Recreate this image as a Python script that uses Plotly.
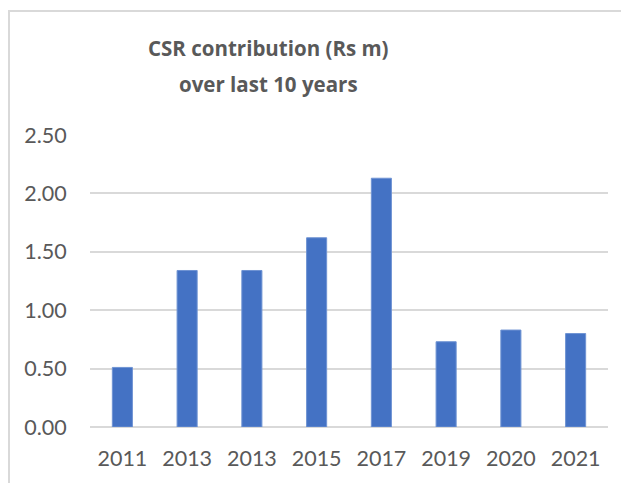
import plotly.graph_objects as go

categories = ["2011", "2013", "2013", "2015", "2017", "2019", "2020", "2021"]
values = [0.51, 1.34, 1.34, 1.62, 2.13, 0.73, 0.83, 0.80]
title_lines = ["CSR contribution (Rs m)", "over last 10 years"]
y_ticks = [0, 0.5, 1.0, 1.5, 2.0, 2.5]

positions = list(range(len(categories)))

# page has an 8px body margin, so the figure is laid out in figure pixels
OFF = 8
W, H = 629 - OFF, 483 - OFF
L, R, T, B = 90 - OFF, 21, 135 - OFF, 483 - 427
pw, ph = W - L - R, H - T - B

def px_x(p):  # page pixel -> paper coord
    return (p - OFF - L) / pw

def px_y(p):
    return (H - B - (p - OFF)) / ph

fig = go.Figure()
fig.add_trace(go.Bar(
    x=positions, y=values,
    marker=dict(color="#4472C4", line=dict(color="#6f93d3", width=1)),
    hoverinfo="skip",
))

font_family = "Lato, 'Open Sans', sans-serif"
title_family = "'Open Sans', Lato, sans-serif"
gray = "#595959"

fig.update_layout(
    width=W, height=H,
    margin=dict(l=L, r=R, t=T, b=B, pad=0),
    paper_bgcolor="white", plot_bgcolor="white",
    bargap=0.69,
    showlegend=False,
    font=dict(family=font_family, color=gray, size=21.5),
    xaxis=dict(
        tickvals=positions, ticktext=categories,
        range=[-0.5, len(categories) - 0.5],
        showgrid=False, zeroline=False, showline=False,
        ticks="outside", ticklen=12, tickcolor="rgba(0,0,0,0)",
        tickfont=dict(size=21.5, color=gray, family=font_family),
    ),
    yaxis=dict(
        range=[0, 2.5], tickvals=y_ticks, tickformat=".2f",
        showgrid=True, gridcolor="#d9d9d9", gridwidth=1.5,
        zeroline=True, zerolinecolor="#d9d9d9", zerolinewidth=1.5,
        showline=False,
        ticks="outside", ticklen=18, tickcolor="rgba(0,0,0,0)",
        tickfont=dict(size=21.5, color=gray, family=font_family),
    ),
    shapes=[dict(
        type="rect", xref="paper", yref="paper",
        x0=px_x(9), x1=px_x(680), y0=px_y(540), y1=px_y(11),
        line=dict(color="#d9d9d9", width=2), fillcolor="rgba(0,0,0,0)",
        layer="below",
    )],
    annotations=[
        dict(text=f"<b>{title_lines[0]}</b>", xref="paper", yref="paper",
             x=px_x(268), y=px_y(48), showarrow=False,
             xanchor="center", yanchor="middle",
             font=dict(size=20.5, color=gray, family=title_family)),
        dict(text=f"<b>{title_lines[1]}</b>", xref="paper", yref="paper",
             x=px_x(268), y=px_y(84), showarrow=False,
             xanchor="center", yanchor="middle",
             font=dict(size=20.5, color=gray, family=title_family)),
    ],
)

fig.write_html("out.html")
